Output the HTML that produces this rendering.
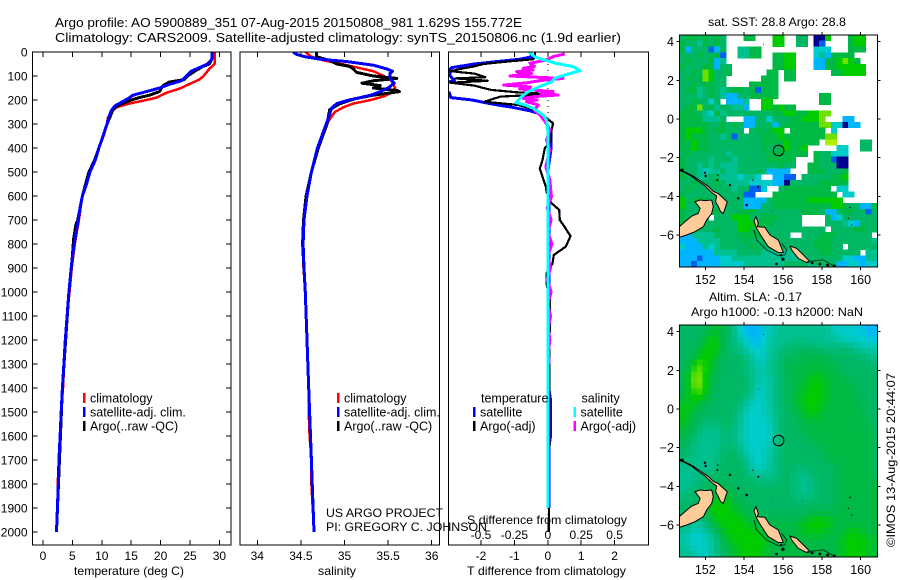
<!DOCTYPE html>
<html><head><meta charset="utf-8"><title>Argo profile</title>
<style>
html,body{margin:0;padding:0;background:#fff}
svg{display:block}
text{font-family:"Liberation Sans",Arial,sans-serif;fill:#000}
</style></head>
<body>
<svg id="fig" width="900" height="580" viewBox="0 0 900 580" xmlns="http://www.w3.org/2000/svg">
<defs>
<clipPath id="clipT"><rect x="32.5" y="52" width="198.5" height="493"/></clipPath>
<clipPath id="clipS"><rect x="240" y="52" width="199.5" height="493"/></clipPath>
<clipPath id="clipD"><rect x="448.5" y="52" width="200" height="493"/></clipPath>
<clipPath id="clipM1"><rect x="679.5" y="35" width="198" height="232"/></clipPath>
<clipPath id="clipM2"><rect x="679.5" y="325" width="198" height="232"/></clipPath>
</defs>
<text x="55" y="27" font-size="13" textLength="467" lengthAdjust="spacingAndGlyphs">Argo profile: AO 5900889_351 07-Aug-2015 20150808_981 1.629S 155.772E</text>
<text x="55" y="42" font-size="13" textLength="566" lengthAdjust="spacingAndGlyphs">Climatology: CARS2009. Satellite-adjusted climatology: synTS_20150806.nc (1.9d earlier)</text>
<text x="74" y="575" font-size="12" textLength="110" lengthAdjust="spacingAndGlyphs">temperature (deg C)</text>
<text x="318" y="575" font-size="12" textLength="38" lengthAdjust="spacingAndGlyphs">salinity</text>
<text x="467" y="575" font-size="12" textLength="159" lengthAdjust="spacingAndGlyphs">T difference from climatology</text>
<text x="467" y="524" font-size="12" textLength="160" lengthAdjust="spacingAndGlyphs">S difference from climatology</text>
<text x="326" y="517" font-size="12" textLength="117" lengthAdjust="spacingAndGlyphs">US ARGO PROJECT</text>
<text x="326" y="531" font-size="12" textLength="161" lengthAdjust="spacingAndGlyphs">PI: GREGORY C. JOHNSON</text>
<text x="708" y="26" font-size="12" textLength="138" lengthAdjust="spacingAndGlyphs">sat. SST: 28.8 Argo: 28.8</text>
<text x="709" y="301" font-size="12" textLength="93" lengthAdjust="spacingAndGlyphs">Altim. SLA: -0.17</text>
<text x="691" y="316" font-size="12" textLength="172" lengthAdjust="spacingAndGlyphs">Argo h1000: -0.13 h2000: NaN</text>
<text transform="translate(895,547) rotate(-90)" font-size="12" textLength="174" lengthAdjust="spacingAndGlyphs">©IMOS 13-Aug-2015 20:44:07</text>
<g id="legend-layer"></g>
</svg>
<script>
// ---------- temperature panel data ----------
const tempClimDepth=[0,50,70,100,115,130,150,170,190,200,215,230,250,275,300,350,400,450,500,550,600,650,700,800,900,1000,1100,1200,1300,1400,1500,1600,1700,1800,1900,2000];
const tempClimValue=[29.2,29.2,28.3,27.3,26.6,25.2,23.5,21,19.3,17.6,14.7,12.5,11.6,11,10.9,10.3,9.5,8.9,7.9,7.4,6.7,6.4,6.1,5.4,4.9,4.5,4.1,3.85,3.6,3.4,3.1,2.9,2.7,2.5,2.45,2.3];
const tempArgoDepth=[0,30,50,60,80,100,115,125,140,165,180,190,200,220,240,300,400,450,500,600,700,720,780,850,1000,1400,2000];
const tempArgoValue=[28.7,28.7,28.3,27.2,25.8,24.6,24,21.5,20.4,19.8,18.1,16.4,15,13,11.9,10.9,9.5,8.8,7.8,6.7,5.9,5.6,5.2,5,4.4,3.3,2.3];
const tempSatDepth=[0,30,50,65,80,100,120,135,150,165,180,195,210,225,245,270,300,400,450,500,550,600,650,700,800,900,1000,1100,1200,1300,1400,1500,1600,1700,1800,1900,2000];
const tempSatValue=[28.7,28.7,28,26.6,25.2,24.4,23.5,21.5,19.8,17.6,15.3,14.4,13.3,12.2,11.6,11.2,10.9,9.5,8.9,8,7.4,6.7,6.3,6,5.3,4.8,4.4,4.1,3.8,3.55,3.3,3.1,2.9,2.7,2.6,2.45,2.3];
// ---------- salinity panel data ----------
const salClimDepth=[0,20,35,55,80,100,120,150,170,185,200,215,230,250,280,300,400,500,600,700,800,900,1000,1200,1400,1500,1600,1700,1800,2000];
const salClimValue=[34.55,34.62,34.76,35.03,35.33,35.45,35.54,35.58,35.54,35.45,35.3,35.1,34.99,34.89,34.83,34.8,34.69,34.62,34.56,34.53,34.52,34.53,34.55,34.57,34.59,34.59,34.6,34.62,34.62,34.65];
const salArgoDepth=[0,20,35,50,60,70,85,100,110,120,130,140,150,160,165,172,180,195,215,240,300,400,500,600,700,800,1000,1400,2000];
const salArgoValue=[34.68,34.68,34.83,34.91,35.06,35.1,35.14,35.33,35.6,35.33,35.2,35.41,35.33,35.6,35.63,35.49,35.33,35.12,34.95,34.83,34.8,34.7,34.62,34.56,34.53,34.52,34.55,34.59,34.65];
const salSatDepth=[0,10,20,30,40,55,70,80,90,110,130,150,165,180,190,200,215,235,260,300,350,400,500,600,700,800,900,1000,1200,1400,1500,1600,1700,1800,2000];
const salSatValue=[34.41,34.45,34.55,34.72,35.03,35.33,35.48,35.55,35.52,35.52,35.57,35.5,35.41,35.3,35.18,35.05,34.91,34.85,34.83,34.79,34.74,34.69,34.62,34.57,34.535,34.525,34.535,34.55,34.57,34.59,34.6,34.61,34.62,34.63,34.65];
// ---------- difference panel data ----------
const diffTSatDepth=[0,20,30,40,50,65,75,100,120,135,150,170,190,200,210,220,230,245,255,270,300,350,400,500,600,1000,1400,1450,1600,1650,1900];
const diffTSatValue=[-0.53,-0.48,-0.83,-1.53,-2.2,-2.87,-2.94,-2.92,-2.8,-3.3,-3.4,-2.95,-2.9,-2.27,-1.92,-1.53,-1.08,-0.54,-0.29,-0.14,-0.04,0.08,0.1,0,0.03,0.03,0.03,0.08,0.08,0.03,0.03];
const diffTArgoDepth=[0,20,30,40,50,60,70,80,90,105,110,120,128,140,158,168,175,186,207,221,235,270,297,325,367,401,450,485,520,561,582,630,658,700,728,767,811,846,881,922,964,1033,2000];
const diffTArgoValue=[-0.38,-0.38,-0.43,-1.23,-1.93,-2.2,-2.6,-2.9,-2.2,-1.87,-2.77,-1.8,-2.9,-2.2,-1.7,-0.93,0.1,-1.42,-1.9,-0.88,-0.53,-0.09,0.16,0.11,0.11,-0.09,-0.16,-0.24,-0.16,-0.06,-0.04,0.11,0.34,0.36,0.5,0.68,0.54,0.18,0.14,-0.04,-0.04,0.06,0.03];
const diffSSatDepth=[0,19,36,47,61,78,96,110,124,144,165,186,211,221,235,249,263,283,325,600,1000,1500,1900];
const diffSSatValue=[-0.14,-0.1,-0.01,0.06,0.19,0.24,0.127,0.05,0.03,-0.06,-0.146,-0.196,-0.238,-0.17,-0.11,-0.07,-0.035,-0.01,0,0,0,0,0];
const diffSArgoDepth=[8,19,33,47,60,68,75,82,90,100,110,119,128,138,146,154,165,172,179,186,193,200,207,221,242,262,297,325,367,408,478,533,603,650,700,750,800,850,900,950,1000,1050,1100,1150,1200,1250,1300];
const diffSArgoValue=[0.127,0.04,-0.01,-0.134,-0.1,-0.184,-0.11,-0.233,-0.12,-0.283,0.114,-0.06,-0.15,-0.33,-0.13,-0.21,0.04,-0.05,0.077,-0.1,-0.184,-0.08,-0.16,-0.07,-0.1,-0.06,-0.01,0.015,-0.01,0.015,-0.015,0.015,0.027,-0.005,0.025,0,0.03,0,0.02,-0.005,0.025,0,0.02,0.005,0.015,0.005,0.01];
// ---------- tick labels ----------
const depthTicks=[0,100,200,300,400,500,600,700,800,900,1000,1100,1200,1300,1400,1500,1600,1700,1800,1900,2000];
const tempTicks=[0,5,10,15,20,25,30];
const salTicks=[34,34.5,35,35.5,36];
const diffTTicks=[-2,-1,0,1,2];
const diffSTicks=[-0.5,-0.25,0,0.25,0.5];
const mapLonTicks=[152,154,156,158,160];
const mapLatTicks=[4,2,0,-2,-4,-6];
// ---------- map fields: each char is a colour level, "." = no data ----------
const colourLevels=[[0,0,144],[0,96,240],[0,180,255],[0,204,204],[0,192,144],[0,184,100],[0,184,68],[0,204,0],[112,224,0],[176,240,0]];
const sstRows=[
"56656565...66...77..55.007...677..",
"65546565........77..55.01....677..",
"62555125..4466.........333...666..",
"55565561..4466..6677...3426666....",
"56555624........6677...22667876...",
"655566255.......6677...226677777..",
"556587556......66.66......667777..",
"56568755......666.66..............",
"55656655....66666.................",
"56645654566561666.................",
"55545654225566666.......66........",
"5565535.2224..77........66........",
"566856455442..776766..............",
"66654364555555556677667788........",
"66664445...22553555667778...22....",
"6666655656522555256666668833 22....",
"67776566555.565677.666666.3.......",
"676665545155556667666666688.......",
"667665555555556666766666.99....55.",
"6676655555555565567667.....33..55.",
"5655555545555556666666.655333.....",
"65555455545555566666...655100.....",
"65545454445555555655..6655500.....",
"6554344544555552222...6665556.....",
"65544554443443..2211.55555667.....",
"55655565444433332205555566666.....",
"565555555455113..566666666.33.....",
"6555555555511...66666666666.33.....",
"7566655555522225666666777777......",
"7555555555522255666666666677655226",
"6555556555666555555556665225665515",
"65555.555777556665555....523555555",
"655555555577766655555....555432555",
"5555556555776665555555555.55556655",
"2244445555666655555..555666555555",
"2224444555565555555555566655555554",
"3222434555556555555555566655.55555",
"2222224444555544444445556655555.445",
"2221222334444444444444555555332244",
"2212222333344444445555455552233233"
];
const slaRows=[
"5555566654322233444444444433333222",
"5555676654322233444444444433333322",
"5555677654432234444444444444333333",
"5556777654433234444555544444444333",
"5566777655443334455555555555554444",
"5567776555544334455556666555555544",
"5578776555554334455666666665555554",
"5688766555544344556666666665555555",
"5698766555554434455666676666555555",
"5698765555554434455666777666665555",
"5698765555554334455666777666665555",
"6688765555554334455667777666666555",
"6677665555544334455667777666666555",
"6776655555543334455667777666666555",
"7766555555433334455667776666666655",
"7665555555433334455566776666666655",
"7665555555433333455566666666666655",
"7655444554433333455556666666666665",
"6654444554433333455556666666666665",
"6554444454433333455555666666666665",
"6544444454433333455555566666666665",
"5544444555433334455555556666666665",
"5544444555543334455555555666666665",
"4544444555543334455555555666666665",
"4444445555553334455555555556666665",
"4444445555553444455544555556666665",
"4445555555555444455544455556666665",
"4445556655555555555544455556666666",
"4455556665555555555544455556666666",
"4555566766555555555544455556666666",
"5555667776655555555555555556666666",
"5555677776665555555555555556666666",
"5555677777666555555555666666666666",
"5444467777766666666666777766666666",
"5444466777776666666667777766666666",
"4433446677777766666667777666677666",
"4333344677777776666666666666777766",
"4333344667777776666666666666777776",
"4433344566777776666666666666777776",
"4443344566777766666666666666777766"
];
const mapLon0=150.66, mapLatTop=4.35, cellDeg=0.3;
const argoLon=155.772, argoLat=-1.629;
// ---------- coastline (lon,lat pairs) ----------
const landPolygons=[
[[150.66,-6.12],[150.66,-5.57],[150.95,-5.31],[151.30,-5.02],[151.64,-4.88],[151.73,-4.62],[151.47,-4.28],[151.73,-4.19],[151.98,-4.22],[152.33,-4.19],[152.41,-4.53],[152.33,-4.88],[152.07,-5.22],[151.90,-5.57],[151.47,-5.83],[151.04,-6.0]],
[[150.66,-2.60],[151.04,-2.78],[151.38,-2.96],[151.73,-3.20],[152.15,-3.48],[152.41,-3.74],[152.67,-3.86],[152.93,-4.10],[153.13,-4.28],[152.93,-4.88],[152.79,-4.79],[152.67,-4.53],[152.53,-4.28],[152.58,-3.98],[152.33,-3.80],[151.98,-3.46],[151.64,-3.22],[151.30,-2.96],[150.87,-2.73],[150.66,-2.66]],
[[154.61,-5.05],[154.73,-5.40],[154.68,-5.57],[155.07,-5.60],[155.33,-6.0],[155.76,-6.26],[155.93,-6.69],[156.02,-6.90],[155.76,-6.91],[155.24,-6.60],[154.90,-6.09],[154.64,-5.66],[154.51,-5.26]],
[[156.36,-6.57],[156.70,-6.69],[157.05,-7.03],[157.39,-7.38],[157.22,-7.43],[156.79,-7.21],[156.45,-6.78]]
];
const reefLines=[
[[154.51,-5.74],[154.64,-6.26],[155.16,-6.78],[155.76,-7.07],[156.10,-7.03],[156.19,-6.78],[155.93,-6.43]],
[[157.22,-7.38],[158.08,-7.29],[158.68,-7.64]]
];
const smallIslands=[[150.8,-2.65,1.6],[151.98,-2.78,1.2],[152.02,-2.95,1.2],[152.64,-2.9,0.7],[152.62,-3.16,1],[153.27,-3.41,1.2],[153.7,-4.1,1.2],[154.13,-4.45,1.3],[154.73,-3.5,1],[154.44,-3.16,0.6],[155.67,-7.5,1.3],[156.0,-7.25,1.6],[155.9,-7.05,1.2],[157.5,-7.45,1.4],[157.9,-7.5,1.4],[158.3,-7.55,1.4],[158.65,-7.6,1.4],[159.45,-4.57,0.8],[159.37,-5.14,0.6],[159.54,-5.48,0.7],[154.99,3.86,0.5],[154.76,1.03,0.4],[155.43,-4.76,0.4],[157.0,-4.76,0.4]];

// ---------- axis functions ----------
const plotTop=52, plotBottom=545;
function yDepth(d){return plotTop+0.24*d;}
function xTemp(t){return 43+5.88*t;}
function xSal(s){return 257.3+87.2*(s-34);}
function xDiffT(t){return 547.8+33.4*t;}
function xDiffS(s){return 547.8+133.6*s;}
function xLon(lon){return 705.3+19.42*(lon-152);}
function yLat(lat,top){return top+6.7+19.33*(4-lat);}

const svg=document.getElementById('fig');
const NS='http://www.w3.org/2000/svg';
function mk(tag,attrs,parent){
  const el=document.createElementNS(NS,tag);
  for(const k in attrs){el.setAttribute(k,attrs[k]);}
  (parent||svg).appendChild(el);
  return el;
}
function label(name,str,x,y,anchor,size){
  const el=mk('text',{x:x,y:y,'text-anchor':anchor,'font-size':size||12});
  
  
  el.textContent=str;
  return el;
}
function tick(name,x1,y1,x2,y2){
  const el=mk('line',{x1:x1,y1:y1,x2:x2,y2:y2,stroke:'#000','stroke-width':1,'shape-rendering':'crispEdges'});
  
  
}
function box(name,x,y,w,h){
  const el=mk('rect',{x:x,y:y,width:w,height:h,fill:'none',stroke:'#000','stroke-width':1.3,'shape-rendering':'crispEdges'});
  
  
}
function profile(name,depths,values,xFn,colour,width,clip){
  const pts=depths.map(function(d,i){return xFn(values[i]).toFixed(1)+','+yDepth(d).toFixed(1);}).join(' ');
  const el=mk('polyline',{points:pts,fill:'none',stroke:colour,'stroke-width':width,'stroke-linejoin':'round','shape-rendering':'crispEdges','clip-path':'url(#'+clip+')'});
  
  
}

// ---------- panel 1: temperature ----------
profile('temperature-climatology-line',tempClimDepth,tempClimValue,xTemp,'#ff0000',2.5,'clipT');
profile('temperature-argo-line',tempArgoDepth,tempArgoValue,xTemp,'#000000',3,'clipT');
profile('temperature-satellite-line',tempSatDepth,tempSatValue,xTemp,'#0000ff',3,'clipT');
box('temperature-plot-frame',32.5,52,198.5,493);
depthTicks.forEach(function(d){
  tick('depth-tick-left',32.5,yDepth(d),37.5,yDepth(d));
  tick('depth-tick-right',226,yDepth(d),231,yDepth(d));
  label('depth-tick-label',String(d),27.5,yDepth(d)+4.5,'end',12);
});
tempTicks.forEach(function(t){
  tick('temperature-tick-top',xTemp(t),52,xTemp(t),57);
  tick('temperature-tick-bottom',xTemp(t),540,xTemp(t),545);
  label('temperature-tick-label',String(t),xTemp(t),560,'middle',12);
});

// ---------- panel 2: salinity ----------
profile('salinity-climatology-line',salClimDepth,salClimValue,xSal,'#ff0000',2.5,'clipS');
profile('salinity-argo-line',salArgoDepth,salArgoValue,xSal,'#000000',3,'clipS');
profile('salinity-satellite-line',salSatDepth,salSatValue,xSal,'#0000ff',3,'clipS');
box('salinity-plot-frame',240,52,199.5,493);
salTicks.forEach(function(s){
  tick('salinity-tick-top',xSal(s),52,xSal(s),57);
  tick('salinity-tick-bottom',xSal(s),540,xSal(s),545);
  label('salinity-tick-label',String(s),xSal(s),560,'middle',12);
});

// ---------- panel 3: differences ----------
const zero=mk('line',{x1:xDiffT(0),y1:yDepth(0),x2:xDiffT(0),y2:yDepth(2000),stroke:'#000','stroke-width':1,'stroke-dasharray':'1 5','shape-rendering':'crispEdges'});


profile('t-difference-satellite-line',diffTSatDepth,diffTSatValue,xDiffT,'#0000ff',3,'clipD');
profile('t-difference-argo-line',diffTArgoDepth,diffTArgoValue,xDiffT,'#000000',2.2,'clipD');
profile('s-difference-argo-line',diffSArgoDepth,diffSArgoValue,xDiffS,'#ff00ff',3,'clipD');
profile('s-difference-satellite-line',diffSSatDepth,diffSSatValue,xDiffS,'#00ffff',3,'clipD');
box('difference-plot-frame',448.5,52,200,493);
diffTTicks.forEach(function(t){
  tick('t-difference-tick-top',xDiffT(t),52,xDiffT(t),57);
  tick('t-difference-tick-bottom',xDiffT(t),540,xDiffT(t),545);
  label('t-difference-tick-label',String(t),xDiffT(t),560,'middle',12);
});
diffSTicks.forEach(function(s){
  label('s-difference-tick-label',String(s),xDiffS(s),539,'middle',12);
});

// ---------- legends ----------
const legendLayer=document.getElementById('legend-layer');
function legendEntry(name,barX,y,colour,str){
  const bar=mk('rect',{x:barX,y:y-5,width:2.5,height:10,fill:colour},legendLayer);
  
  
  label(name+'-label',str,barX+7,y+4.5,'start',12.5);
}
legendEntry('temperature-legend-climatology',83,398,'#ff0000','climatology');
legendEntry('temperature-legend-satellite',83,412,'#0000ff','satellite-adj. clim.');
legendEntry('temperature-legend-argo',83,426,'#000000','Argo(..raw -QC)');
legendEntry('salinity-legend-climatology',337,398,'#ff0000','climatology');
legendEntry('salinity-legend-satellite',337,412,'#0000ff','satellite-adj. clim.');
legendEntry('salinity-legend-argo',337,426,'#000000','Argo(..raw -QC)');
label('difference-legend-temperature-heading','temperature',481,402.5,'start',12.5);
label('difference-legend-salinity-heading','salinity',581.5,402.5,'start',12.5);
legendEntry('difference-legend-t-satellite',473,412,'#0000ff','satellite');
legendEntry('difference-legend-t-argo',473,426,'#000000','Argo(-adj)');
legendEntry('difference-legend-s-satellite',573.5,412,'#00ffff','satellite');
legendEntry('difference-legend-s-argo',573.5,426,'#ff00ff','Argo(-adj)');

// ---------- maps ----------
function levelColour(v){
  const lo=Math.max(0,Math.min(8,Math.floor(v))), f=v-lo;
  const a=colourLevels[lo], b=colourLevels[lo+1];
  return 'rgb('+[0,1,2].map(function(i){return Math.round(a[i]+(b[i]-a[i])*f);}).join(',')+')';
}
function cellLevel(rows,r,c,smooth){
  if(!smooth){return +rows[r].charAt(c);}
  let sum=0,n=0;
  for(let i=-1;i<=1;i++){
    for(let j=-1;j<=1;j++){
      const row=rows[r+i];
      const ch=row?row.charAt(c+j):'';
      if(ch&&ch!=='.'){const w=(i===0&&j===0)?2:1;sum+=w*(+ch);n+=w;}
    }
  }
  return sum/n;
}
function drawMap(prefix,rows,top,clip,smooth){
  const cells=mk('g',{'shape-rendering':'crispEdges'});
  
  
  rows.forEach(function(row,r){
    for(let c=0;c<34;c++){
      const level=row.charAt(c);
      if(level==='.'||level==='')continue;
      const x0=xLon(mapLon0+c*cellDeg), x1=xLon(mapLon0+(c+1)*cellDeg);
      const y0=yLat(mapLatTop-r*cellDeg,top), y1=yLat(mapLatTop-(r+1)*cellDeg,top);
      const cell=mk('rect',{x:x0.toFixed(2),y:y0.toFixed(2),width:(x1-x0+0.4).toFixed(2),height:(y1-y0+0.4).toFixed(2),fill:levelColour(cellLevel(rows,r,c,smooth))},cells);
      
      
    }
  });
  const land=mk('g',{'clip-path':'url(#'+clip+')'});
  
  
  landPolygons.forEach(function(poly){
    const pts=poly.map(function(p){return xLon(p[0]).toFixed(1)+','+yLat(p[1],top).toFixed(1);}).join(' ');
    const el=mk('polygon',{points:pts,fill:'#ffcc99',stroke:'#000','stroke-width':1},land);
    
    
  });
  reefLines.forEach(function(line){
    const pts=line.map(function(p){return xLon(p[0]).toFixed(1)+','+yLat(p[1],top).toFixed(1);}).join(' ');
    const el=mk('polyline',{points:pts,fill:'none',stroke:'#003a20','stroke-width':1},land);
    
    
  });
  smallIslands.forEach(function(p){
    const el=mk('circle',{cx:xLon(p[0]).toFixed(1),cy:yLat(p[1],top).toFixed(1),r:p[2],fill:'#000'},land);
    
    
  });
  const dot=mk('circle',{cx:xLon(argoLon).toFixed(1),cy:yLat(argoLat,top).toFixed(1),r:5.3,fill:'none',stroke:'#000','stroke-width':1});
  
  
  box(prefix+'-map-frame',679.5,top,198,232);
  mapLonTicks.forEach(function(lon){
    tick(prefix+'-lon-tick-top',xLon(lon),top-3,xLon(lon),top);
    tick(prefix+'-lon-tick-bottom',xLon(lon),top+232,xLon(lon),top+235);
    label(prefix+'-lon-label',String(lon),xLon(lon),top+249,'middle',12.5);
  });
  mapLatTicks.forEach(function(lat){
    tick(prefix+'-lat-tick-left',676.5,yLat(lat,top),679.5,yLat(lat,top));
    tick(prefix+'-lat-tick-right',877.5,yLat(lat,top),880.5,yLat(lat,top));
    label(prefix+'-lat-label',String(lat).replace('-','\u2212'),674,yLat(lat,top)+4.5,'end',12.5);
  });
}
drawMap('sst',sstRows,35,'clipM1',false);
drawMap('sla',slaRows,325,'clipM2',true);
</script>
</body></html>
